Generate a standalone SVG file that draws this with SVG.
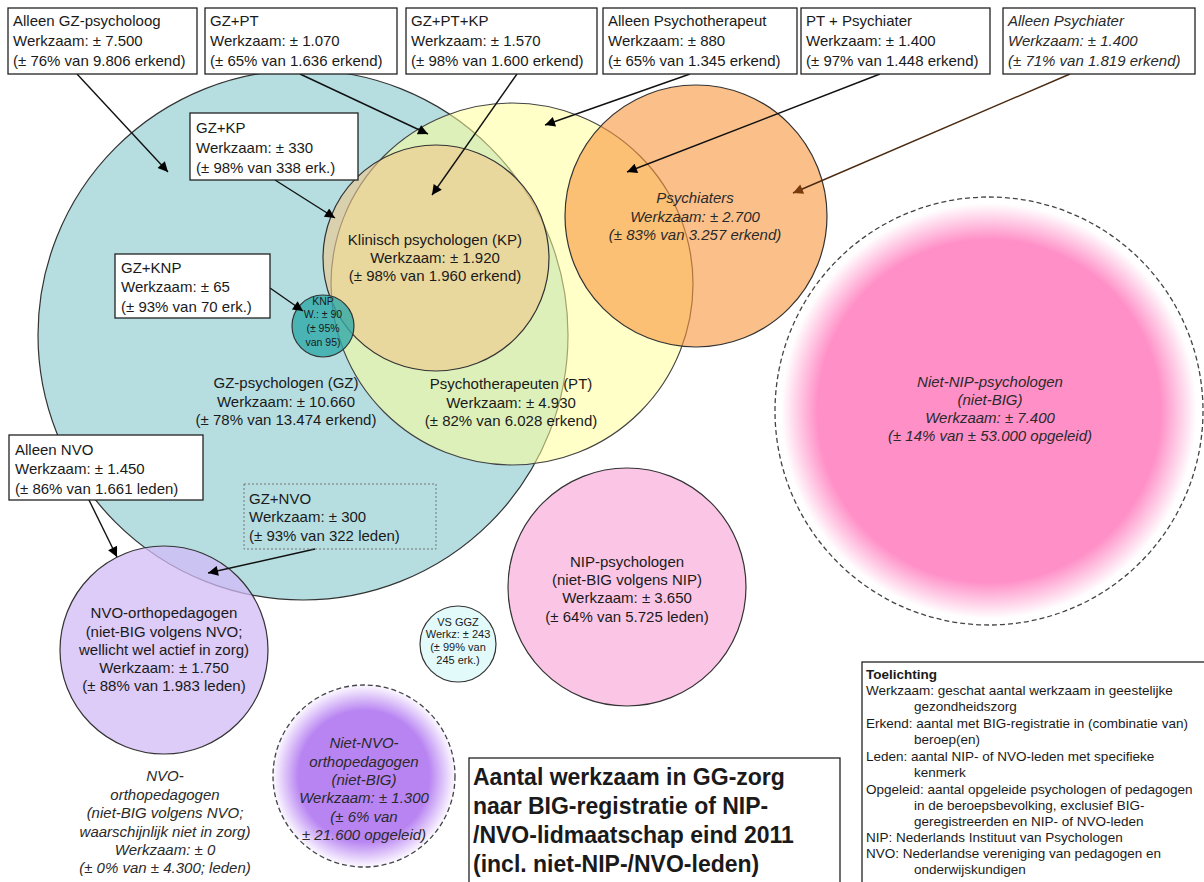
<svg xmlns="http://www.w3.org/2000/svg" width="1204" height="882" viewBox="0 0 1204 882">
<style>
text{font-family:"Liberation Sans",Arial,sans-serif;fill:#1a1a1a}
.t{font-size:15px}
.c{font-size:15px;text-anchor:middle}
.i{font-style:italic;fill:#2a2a2a}
.box{fill:#fff;stroke:#222;stroke-width:1.3}
.circ{stroke:#333;stroke-width:1.2}
.dash{fill:none;stroke:#444;stroke-width:1.3;stroke-dasharray:5 3}
.con{stroke:#111;stroke-width:1.4;fill:none;marker-end:url(#ah)}
.leg{font-size:13.5px}
.ttl{font-size:23px;font-weight:bold}
</style>
<defs>
<marker id="ah" viewBox="0 0 10 10" refX="10" refY="5" markerWidth="12" markerHeight="10" markerUnits="userSpaceOnUse" orient="auto"><path d="M0,0 L10,5 L0,10 z" fill="#000"/></marker>
<marker id="ahb" viewBox="0 0 10 10" refX="10" refY="5" markerWidth="12" markerHeight="10" markerUnits="userSpaceOnUse" orient="auto"><path d="M0,0 L10,5 L0,10 z" fill="#7a3a0c"/></marker>
<radialGradient id="gPink" cx="0.5" cy="0.5" r="0.5"><stop offset="0" stop-color="#ff8fc7"/><stop offset="0.8" stop-color="#ff8fc7"/><stop offset="0.97" stop-color="#ffffff"/></radialGradient>
<radialGradient id="gPurp" cx="0.5" cy="0.5" r="0.5"><stop offset="0" stop-color="#b884f2"/><stop offset="0.72" stop-color="#b884f2"/><stop offset="0.98" stop-color="#f8f2ff"/></radialGradient>
</defs>
<rect width="1204" height="882" fill="#fff"/>

<g id="niet-nip">
<circle cx="989" cy="411" r="214" fill="url(#gPink)"/>
<circle cx="989" cy="411" r="214" class="dash"/>
<text class="c i" x="990" y="387">Niet-NIP-psychologen</text>
<text class="c i" x="990" y="405">(niet-BIG)</text>
<text class="c i" x="990" y="423">Werkzaam: ± 7.400</text>
<text class="c i" x="990" y="441">(± 14% van ± 53.000 opgeleid)</text>
</g>

<g id="gz">
<circle cx="303" cy="335" r="265" fill="#b6dee1" class="circ"/>
</g>

<g id="nvo">
<circle cx="164" cy="650" r="104" fill="#d2b9f6" fill-opacity="0.75" class="circ"/>
<text class="c" x="164" y="618">NVO-orthopedagogen</text>
<text class="c" x="164" y="637">(niet-BIG volgens NVO;</text>
<text class="c" x="164" y="655">wellicht wel actief in zorg)</text>
<text class="c" x="164" y="673">Werkzaam: ± 1.750</text>
<text class="c" x="164" y="691">(± 88% van 1.983 leden)</text>
</g>

<g id="pt">
<circle cx="512" cy="284" r="181" fill="#ffff99" fill-opacity="0.55" stroke="#444" stroke-width="1.2"/>
</g>

<g id="kp">
<circle cx="436" cy="258" r="113" fill="#f0c88c" fill-opacity="0.6" class="circ"/>
</g>

<g id="psychiaters">
<circle cx="696" cy="216" r="131" fill="#f8963c" fill-opacity="0.6" class="circ"/>
</g>

<g id="knp">
<circle cx="323" cy="326" r="31" fill="#2fa9a9" fill-opacity="0.8" class="circ"/>
<text x="323" y="305" font-size="10.5" text-anchor="middle">KNP</text>
<text x="323" y="318" font-size="10.5" text-anchor="middle">W.: ± 90</text>
<text x="323" y="332" font-size="10.5" text-anchor="middle">(± 95%</text>
<text x="323" y="346" font-size="10.5" text-anchor="middle">van 95)</text>
</g>

<g id="labels-circles">
<text class="c" x="286" y="388">GZ-psychologen (GZ)</text>
<text class="c" x="286" y="407">Werkzaam: ± 10.660</text>
<text class="c" x="286" y="425">(± 78% van 13.474 erkend)</text>
<text class="c" x="435" y="245">Klinisch psychologen (KP)</text>
<text class="c" x="435" y="263">Werkzaam: ± 1.920</text>
<text class="c" x="435" y="281">(± 98% van 1.960 erkend)</text>
<text class="c" x="511" y="389">Psychotherapeuten (PT)</text>
<text class="c" x="511" y="408">Werkzaam: ± 4.930</text>
<text class="c" x="511" y="426">(± 82% van 6.028 erkend)</text>
<text class="c i" x="695" y="203">Psychiaters</text>
<text class="c i" x="695" y="222">Werkzaam: ± 2.700</text>
<text class="c i" x="695" y="240">(± 83% van 3.257 erkend)</text>
</g>

<g id="nip">
<circle cx="627" cy="587" r="119" fill="#fbc6e6" class="circ"/>
<text class="c" x="627" y="567">NIP-psychologen</text>
<text class="c" x="627" y="585">(niet-BIG volgens NIP)</text>
<text class="c" x="627" y="603">Werkzaam: ± 3.650</text>
<text class="c" x="627" y="622">(± 64% van 5.725 leden)</text>
</g>

<g id="vsggz">
<circle cx="458" cy="644" r="38" fill="#e2fafa" class="circ"/>
<text x="458" y="626" font-size="11" text-anchor="middle">VS GGZ</text>
<text x="458" y="638" font-size="11" text-anchor="middle">Werkz: ± 243</text>
<text x="458" y="651" font-size="11" text-anchor="middle">(± 99% van</text>
<text x="458" y="664" font-size="11" text-anchor="middle">245 erk.)</text>
</g>

<g id="niet-nvo">
<circle cx="364" cy="776" r="91" fill="url(#gPurp)"/>
<circle cx="364" cy="776" r="91" class="dash"/>
<text class="c i" x="364" y="748">Niet-NVO-</text>
<text class="c i" x="364" y="767">orthopedagogen</text>
<text class="c i" x="364" y="785">(niet-BIG)</text>
<text class="c i" x="364" y="803">Werkzaam: ± 1.300</text>
<text class="c i" x="364" y="822">(± 6% van</text>
<text class="c i" x="364" y="840">± 21.600 opgeleid)</text>
</g>

<g id="nvo-niet-zorg">
<text class="c i" x="165" y="781">NVO-</text>
<text class="c i" x="165" y="800">orthopedagogen</text>
<text class="c i" x="165" y="818">(niet-BIG volgens NVO;</text>
<text class="c i" x="165" y="837">waarschijnlijk niet in zorg)</text>
<text class="c i" x="165" y="855">Werkzaam: ± 0</text>
<text class="c i" x="165" y="873">(± 0% van ± 4.300; leden)</text>
</g>

<g id="connectors">
<line class="con" x1="77" y1="74" x2="168" y2="172"/>
<line class="con" x1="300" y1="74" x2="428" y2="134"/>
<line class="con" x1="517" y1="74" x2="432" y2="195"/>
<line class="con" x1="690" y1="74" x2="545" y2="125"/>
<line class="con" x1="880" y1="74" x2="627" y2="172"/>
<line x1="1070" y1="74" x2="793" y2="193" stroke="#4a2a10" stroke-width="1.4" marker-end="url(#ahb)"/>
<line class="con" x1="275" y1="180" x2="335" y2="218"/>
<line class="con" x1="270" y1="288" x2="303" y2="311"/>
<line class="con" x1="88" y1="498" x2="117" y2="557"/>
<line class="con" x1="315" y1="549" x2="208" y2="573"/>
</g>

<g id="box-alleen-gz">
<rect class="box" x="8" y="8" width="189" height="66"/>
<text class="t" x="13" y="26">Alleen GZ-psycholoog</text>
<text class="t" x="13" y="46">Werkzaam: ± 7.500</text>
<text class="t" x="13" y="66">(± 76% van 9.806 erkend)</text>
</g>
<g id="box-gz-pt">
<rect class="box" x="205" y="8" width="192" height="66"/>
<text class="t" x="210" y="26">GZ+PT</text>
<text class="t" x="210" y="46">Werkzaam: ± 1.070</text>
<text class="t" x="210" y="66">(± 65% van 1.636 erkend)</text>
</g>
<g id="box-gz-pt-kp">
<rect class="box" x="406" y="8" width="191" height="66"/>
<text class="t" x="411" y="26">GZ+PT+KP</text>
<text class="t" x="411" y="46">Werkzaam: ± 1.570</text>
<text class="t" x="411" y="66">(± 98% van 1.600 erkend)</text>
</g>
<g id="box-alleen-pt">
<rect class="box" x="603" y="8" width="194" height="66"/>
<text class="t" x="608" y="26">Alleen Psychotherapeut</text>
<text class="t" x="608" y="46">Werkzaam: ± 880</text>
<text class="t" x="608" y="66">(± 65% van 1.345 erkend)</text>
</g>
<g id="box-pt-psychiater">
<rect class="box" x="801" y="8" width="189" height="66"/>
<text class="t" x="806" y="26">PT + Psychiater</text>
<text class="t" x="806" y="46">Werkzaam: ± 1.400</text>
<text class="t" x="806" y="66">(± 97% van 1.448 erkend)</text>
</g>
<g id="box-alleen-psychiater">
<rect class="box" x="1003" y="8" width="192" height="66"/>
<text class="t i" x="1008" y="26">Alleen Psychiater</text>
<text class="t i" x="1008" y="46">Werkzaam: ± 1.400</text>
<text class="t i" x="1008" y="66">(± 71% van 1.819 erkend)</text>
</g>
<g id="box-gz-kp">
<rect class="box" x="190" y="113" width="168" height="67"/>
<text class="t" x="196" y="133">GZ+KP</text>
<text class="t" x="196" y="153">Werkzaam: ± 330</text>
<text class="t" x="196" y="173">(± 98% van 338 erk.)</text>
</g>
<g id="box-gz-knp">
<rect class="box" x="115" y="254" width="155" height="64"/>
<text class="t" x="121" y="273">GZ+KNP</text>
<text class="t" x="121" y="292">Werkzaam: ± 65</text>
<text class="t" x="121" y="312">(± 93% van 70 erk.)</text>
</g>
<g id="box-alleen-nvo">
<rect class="box" x="9" y="435" width="194" height="65"/>
<text class="t" x="15" y="455">Alleen NVO</text>
<text class="t" x="15" y="474">Werkzaam: ± 1.450</text>
<text class="t" x="15" y="494">(± 86% van 1.661 leden)</text>
</g>
<g id="box-gz-nvo">
<rect x="244" y="484" width="192" height="65" fill="none" stroke="#777" stroke-width="1" stroke-dasharray="2 2"/>
<text class="t" x="249" y="504">GZ+NVO</text>
<text class="t" x="249" y="522">Werkzaam: ± 300</text>
<text class="t" x="249" y="541">(± 93% van 322 leden)</text>
</g>

<g id="title">
<rect x="469" y="758" width="371" height="140" fill="#fff" stroke="#222" stroke-width="1.3"/>
<text class="ttl" x="473" y="785">Aantal werkzaam in GG-zorg</text>
<text class="ttl" x="473" y="814">naar BIG-registratie of NIP-</text>
<text class="ttl" x="473" y="843">/NVO-lidmaatschap eind 2011</text>
<text class="ttl" x="473" y="872">(incl. niet-NIP-/NVO-leden)</text>
</g>

<g id="toelichting">
<rect x="862" y="662" width="350" height="230" fill="#fff" stroke="#222" stroke-width="1.3"/>
<text class="leg" x="866" y="679" font-weight="bold">Toelichting</text>
<text class="leg" x="866" y="695">Werkzaam: geschat aantal werkzaam in geestelijke</text>
<text class="leg" x="914" y="711">gezondheidszorg</text>
<text class="leg" x="866" y="728">Erkend: aantal met BIG-registratie in (combinatie van)</text>
<text class="leg" x="914" y="744">beroep(en)</text>
<text class="leg" x="866" y="761">Leden: aantal NIP-  of NVO-leden met specifieke</text>
<text class="leg" x="914" y="777">kenmerk</text>
<text class="leg" x="866" y="794">Opgeleid: aantal opgeleide psychologen of pedagogen</text>
<text class="leg" x="914" y="810">in de beroepsbevolking, exclusief BIG-</text>
<text class="leg" x="914" y="826">geregistreerden en NIP-  of NVO-leden</text>
<text class="leg" x="866" y="842">NIP:  Nederlands Instituut van Psychologen</text>
<text class="leg" x="866" y="858">NVO: Nederlandse vereniging van pedagogen en</text>
<text class="leg" x="914" y="874">onderwijskundigen</text>
</g>
</svg>
